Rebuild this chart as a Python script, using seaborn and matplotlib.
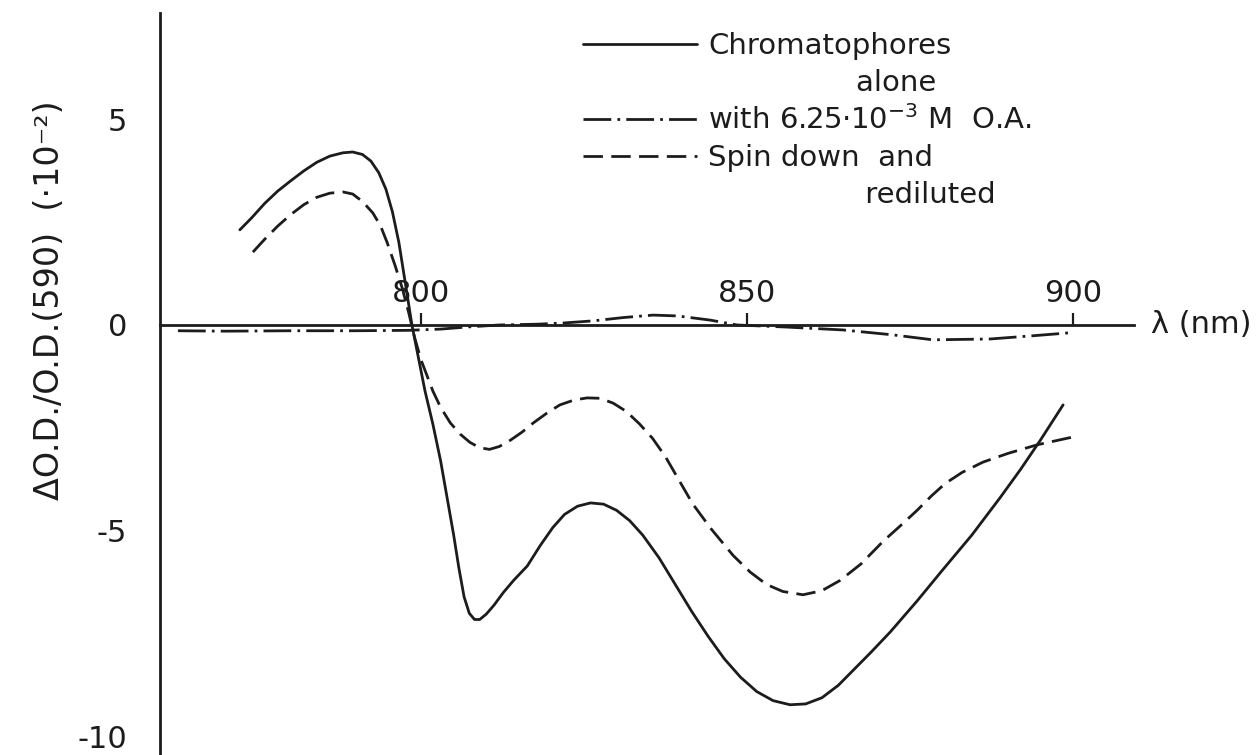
import matplotlib
matplotlib.use('Agg')
import matplotlib.pyplot as plt
import seaborn as sns
import pandas as pd
from matplotlib.lines import Line2D

sns.set_style('white')
plt.rcParams['font.family'] = ['DejaVu Sans']
plt.rcParams['axes.unicode_minus'] = False

INK = '#1c1c1c'

# Chromatophores alone (solid)
wl_alone = [772.2, 774, 776, 778, 780, 782, 784, 786, 788, 789.5, 791, 792.3, 793.5,
            794.6, 795.6, 796.6, 797.6, 798.6, 799.6, 800.6, 801.8, 803, 804, 805,
            805.8, 806.6, 807.4, 808.2, 809, 810, 811.2, 812.6, 814.2, 816.3, 818.3,
            820.2, 822, 824, 826, 828, 830, 832, 834, 836.5, 839, 841.5, 844, 846.5,
            849, 851.5, 854, 856.6, 859, 861.5, 864, 866.5, 869, 872, 876.1, 880,
            884.5, 888.8, 892, 895, 898.5]
od_alone = [2.31, 2.6, 2.95, 3.25, 3.5, 3.74, 3.95, 4.1, 4.18, 4.2, 4.14, 3.98, 3.7,
            3.3, 2.75, 2.0, 1.0, 0.0, -0.8, -1.6, -2.4, -3.3, -4.2, -5.1,
            -5.9, -6.6, -7.0, -7.15, -7.15, -7.02, -6.8, -6.5, -6.2, -5.85, -5.35,
            -4.92, -4.6, -4.4, -4.32, -4.35, -4.5, -4.75, -5.1, -5.65, -6.3, -6.95, -7.55, -8.1,
            -8.55, -8.9, -9.12, -9.22, -9.2, -9.05, -8.75, -8.35, -7.95, -7.45, -6.7, -5.95,
            -5.1, -4.2, -3.5, -2.8, -1.94]

# with 6.25e-3 M O.A. (dash-dot)
wl_oa = [762.7, 770, 780, 790, 798, 803, 807, 812, 818, 822, 826.4, 831, 835.6,
         839.3, 844.3, 848.5, 856, 864.7, 872.4, 878.5, 887.3, 894, 899.5]
od_oa = [-0.14, -0.15, -0.14, -0.14, -0.13, -0.1, -0.05, 0.0, 0.02, 0.05, 0.10, 0.18, 0.24,
         0.22, 0.12, 0.0, -0.05, -0.12, -0.24, -0.36, -0.34, -0.26, -0.19]

# spin down and rediluted (dashed)
wl_spin = [774.2, 776, 778, 780, 782, 784, 786, 788, 789.5, 791, 792.6, 793.8, 794.8,
           796, 797.1, 798.1, 799, 800, 801.8, 803, 804.5, 806, 807.5, 809, 810.5,
           812, 813.5, 815.5, 817.2, 819.3, 821.3, 823.5, 825.5, 827.5, 829.5, 831.5,
           833.5, 835.5, 837.5, 839.5, 841.7, 844.5, 847.9, 850.5, 853, 855.5, 858.6,
           861.5, 864.3, 867.5, 870.9, 873.5, 876.1, 878.3, 880.4, 883, 886.2, 890,
           894.5, 900]
od_spin = [1.77, 2.08, 2.4, 2.68, 2.92, 3.1, 3.2, 3.23, 3.18, 3.0, 2.72, 2.4, 2.0,
           1.45, 0.9, 0.3, -0.3, -0.85, -1.6, -2.0, -2.38, -2.65, -2.85, -2.98, -3.02,
           -2.95, -2.82, -2.6, -2.38, -2.14, -1.94, -1.82, -1.77, -1.78, -1.9, -2.1,
           -2.4, -2.75, -3.2, -3.75, -4.35, -4.95, -5.6, -6.0, -6.3, -6.47, -6.55,
           -6.45, -6.2, -5.8, -5.25, -4.88, -4.5, -4.15, -3.85, -3.58, -3.33, -3.12,
           -2.91, -2.72]

x_ticks = [800, 850, 900]
x_ticklabels = ['800', '850', '900']
y_ticks = [-10, -7.5, -5, -2.5, 0, 2.5, 5]
y_ticklabels = ['-10', '', '-5', '', '0', '', '5']

SOLID = '-'
DASHDOT = (0, (10, 2.2, 1, 2.2))
DASHED = (0, (7, 3))

fig = plt.figure(figsize=(12.58, 7.55), dpi=100)
fig.patch.set_facecolor('white')
ax = fig.add_axes([0, 0, 1, 1])
ax.set_facecolor('white')

df_alone = pd.DataFrame({'wl': wl_alone, 'od': od_alone})
df_oa = pd.DataFrame({'wl': wl_oa, 'od': od_oa})
df_spin = pd.DataFrame({'wl': wl_spin, 'od': od_spin})

sns.lineplot(data=df_alone, x='wl', y='od', ax=ax, color=INK, lw=2.0,
             linestyle=SOLID, estimator=None, sort=False)
sns.lineplot(data=df_oa, x='wl', y='od', ax=ax, color=INK, lw=2.0,
             linestyle=DASHDOT, estimator=None, sort=False)
sns.lineplot(data=df_spin, x='wl', y='od', ax=ax, color=INK, lw=2.0,
             linestyle=DASHED, estimator=None, sort=False)

ax.set_xlim(735.4, 928.4)
ax.set_ylim(-10.44, 7.89)
ax.set_xlabel('')
ax.set_ylabel('')

# axes drawn like the hand-made frame: y axis at 760 nm, x axis along zero
for s in ['right', 'bottom']:
    ax.spines[s].set_visible(False)
ax.spines['left'].set_position(('data', 760))
ax.spines['left'].set_bounds(-10.44, 7.57)
ax.spines['top'].set_position(('data', 0))
ax.spines['top'].set_bounds(760, 909.4)
for s in ['left', 'top']:
    ax.spines[s].set_color(INK)
    ax.spines[s].set_linewidth(2.0)

ax.xaxis.set_ticks_position('top')
ax.set_xticks(x_ticks)
ax.set_xticklabels(x_ticklabels)
ax.tick_params(axis='x', direction='out', length=9, width=1.6, color=INK,
               labelsize=22, labelcolor=INK, pad=3)
ax.set_yticks(y_ticks)
ax.set_yticklabels(y_ticklabels)
ax.tick_params(axis='y', direction='in', length=14, width=1.6, color=INK,
               labelsize=22, labelcolor=INK, pad=24)

ax.text(912, 0, 'λ (nm)', fontsize=22, color=INK, va='center', ha='left')
fig.text(50 / 1258, 1 - 300 / 755, 'ΔO.D./O.D.(590)  (·10⁻²)', rotation=90,
         fontsize=24, color=INK, ha='center', va='center')

blank = Line2D([], [], color='none')
handles = [Line2D([], [], color=INK, lw=2.0, linestyle=SOLID), blank,
           Line2D([], [], color=INK, lw=2.0, linestyle=DASHDOT),
           Line2D([], [], color=INK, lw=2.0, linestyle=DASHED), blank]
labels = ['Chromatophores', '                alone', 'with 6.25·10$^{-3}$ M  O.A.',
          'Spin down  and', '                 rediluted']
leg = ax.legend(handles, labels, loc='upper left',
                bbox_to_anchor=(583 / 1258, 1 - 32 / 755), bbox_transform=fig.transFigure,
                frameon=False, fontsize=21, handlelength=3.9, handletextpad=0.4,
                labelspacing=0.30, borderpad=0, borderaxespad=0)
for t in leg.get_texts():
    t.set_color(INK)

plt.savefig('out.png', dpi=100, facecolor='white')
